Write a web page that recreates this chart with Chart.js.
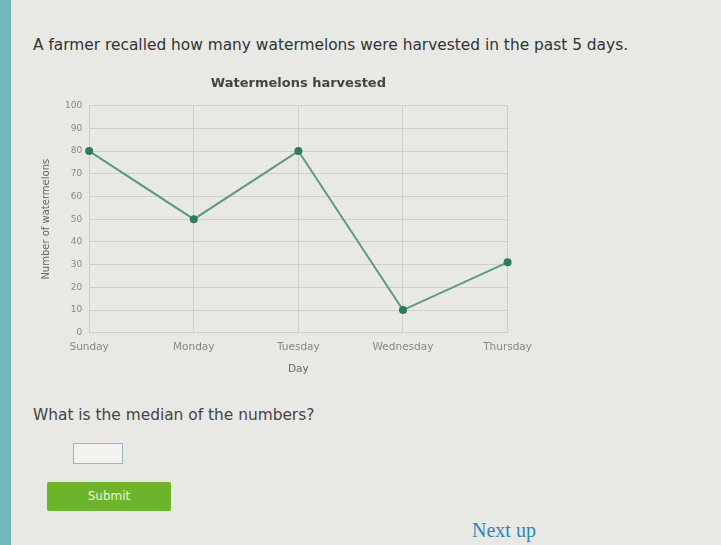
<!DOCTYPE html>
<html>
<head>
<meta charset="utf-8">
<script src="https://cdn.jsdelivr.net/npm/chart.js@4"></script>
<style>
  body { margin: 0; width: 721px; height: 545px; overflow: hidden; background: #e8e8e4; font-family: "DejaVu Sans", sans-serif; position: relative; }
  .strip { position: absolute; left: 0; top: 0; width: 11px; height: 545px; background: #6fb9bd; }
  .intro { position: absolute; left: 33px; top: 36px; font-size: 15.4px; color: #333; }
  #chartBox { position: absolute; left: 36px; top: 68px; width: 504px; height: 312px; }
  .question { position: absolute; left: 33px; top: 406px; font-size: 15.4px; color: #444; }
  .answer { position: absolute; left: 73px; top: 443px; width: 48px; height: 19px; border: 1px solid #9fb3c8; background: #f2f2ef; }
  .submit { position: absolute; left: 47px; top: 482px; width: 124px; height: 29px; background: #6cb42a; border-radius: 2px; color: #e8f2dc; font-size: 12px; text-align: center; line-height: 29px; }
  .next { position: absolute; left: 472px; top: 519px; font-family: "Liberation Serif", serif; font-size: 20px; color: #2f86bd; }
</style>
</head>
<body>
<div class="strip"></div>
<div class="intro">A farmer recalled how many watermelons were harvested in the past 5 days.</div>
<div id="chartBox"><canvas id="harvestChart"></canvas></div>
<div class="question">What is the median of the numbers?</div>
<div class="answer"></div>
<div class="submit">Submit</div>
<div class="next">Next up</div>
<script>
const days = ['Sunday', 'Monday', 'Tuesday', 'Wednesday', 'Thursday'];
const watermelons = [80, 50, 80, 10, 31];
const yTicks = [0, 10, 20, 30, 40, 50, 60, 70, 80, 90, 100];

const ctx = document.getElementById('harvestChart').getContext('2d');
new Chart(ctx, {
  type: 'line',
  data: {
    labels: days,
    datasets: [{
      label: 'Watermelons',
      data: watermelons,
      borderColor: '#5f9a7c',
      backgroundColor: '#2f7d55',
      pointBackgroundColor: '#2f7d55',
      pointBorderColor: '#2f7d55',
      pointRadius: 3,
      borderWidth: 2,
      tension: 0
    }]
  },
  options: {
    responsive: true,
    maintainAspectRatio: false,
    animation: false,
    layout: { padding: { left: 0, right: 30, top: 0, bottom: 0 } },
    plugins: {
      legend: { display: false },
      tooltip: { enabled: false },
      title: {
        display: true,
        fullSize: false, // center over the plot, not the canvas
        text: 'Watermelons harvested',
        color: '#444',
        font: { family: 'DejaVu Sans', size: 13, weight: 'bold' },
        padding: { top: 8, bottom: 14 }
      }
    },
    scales: {
      x: {
        offset: false,
        grid: { color: '#cfcfcb', drawTicks: false },
        border: { color: '#cfcfcb' },
        ticks: { color: '#888', font: { family: 'DejaVu Sans', size: 10.5 }, padding: 8, maxRotation: 0 },
        title: { display: true, text: 'Day', color: '#666', font: { family: 'DejaVu Sans', size: 10.5 }, padding: { top: 2 } }
      },
      y: {
        min: 0,
        max: 100,
        afterBuildTicks: axis => { axis.ticks = yTicks.map(v => ({ value: v })); },
        grid: { color: '#cfcfcb', drawTicks: false },
        border: { color: '#cfcfcb' },
        ticks: { color: '#888', font: { family: 'DejaVu Sans', size: 9 }, padding: 7 },
        title: { display: true, text: 'Number of watermelons', color: '#666', font: { family: 'DejaVu Sans', size: 10 }, padding: { bottom: 6 } }
      }
    }
  }
});
</script>
</body>
</html>
